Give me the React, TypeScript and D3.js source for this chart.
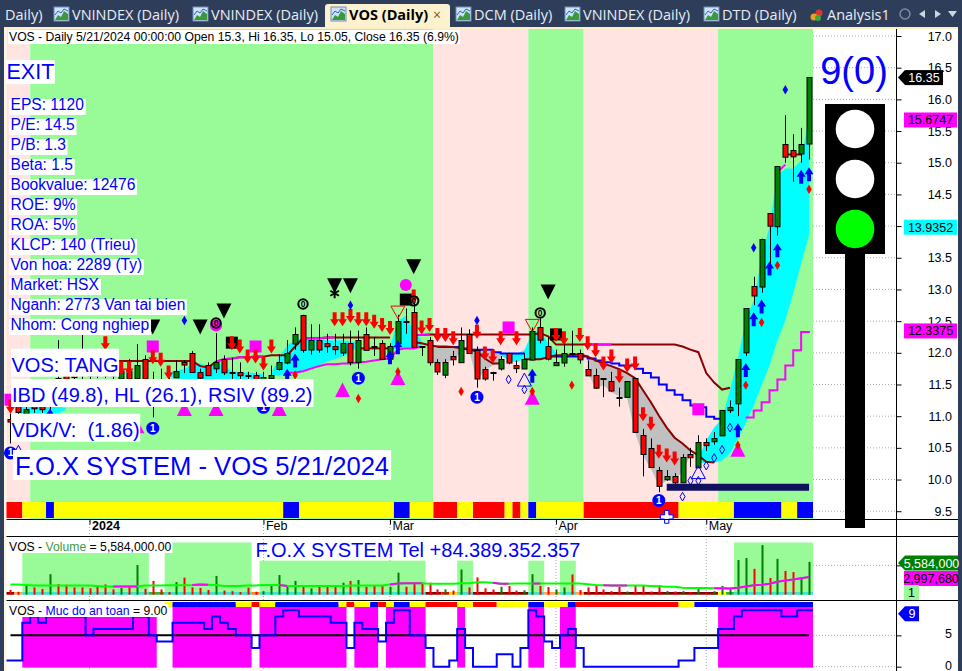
import React, { useEffect, useRef } from 'react'
import * as d3 from 'd3'

// candles, bar 1 is the left most one
const opens = [
  10.96, 11.17, 11.03, 11.25, 11.16, 11.18, 11.6, 11.65, 11.7, 11.7,
  11.72, 11.75, 11.75, 11.72, 11.6, 11.72, 11.6, 11.91, 11.5, 11.55,
  11.5, 11.61, 11.85, 12.0, 11.7, 11.81, 11.75, 11.91, 11.7, 11.7,
  11.65, 11.65, 11.48, 11.6, 11.74, 11.85, 12.15, 12.6, 12.05, 12.2,
  12.15, 12.1, 12.0, 12.15, 11.85, 12.3, 12.1, 12.15, 11.9, 12.15,
  12.5, 12.65, 12.1, 12.2, 11.85, 11.65, 11.95, 11.85, 12.3, 12.05,
  11.75, 11.7, 11.75, 12.0, 11.8, 11.75, 11.9, 12.4, 12.1, 11.8,
  11.85, 12.0, 12.0, 11.75, 11.65, 11.6, 11.55, 11.3, 11.3, 11.6,
  10.7, 10.5, 10.15, 10.0, 10.05, 9.95, 10.4, 10.2, 10.6, 10.6,
  10.7, 11.1, 11.2, 12.0, 13.05, 13.05, 14.2, 14.0, 15.3, 15.2, 15.15, 15.3,
]
const highs = [
  11.04, 11.25, 11.2, 11.35, 11.25, 11.45, 12.2, 11.8, 11.85, 12.28,
  11.9, 12.0, 12.05, 11.9, 11.85, 11.9, 12.14, 11.96, 11.7, 11.75,
  11.65, 11.88, 11.88, 12.03, 11.75, 11.85, 12.31, 11.96, 11.92, 11.85,
  11.7, 11.7, 11.7, 11.8, 11.98, 12.2, 12.4, 12.6, 12.45, 12.45,
  12.3, 12.3, 12.3, 12.35, 12.35, 12.4, 12.25, 12.2, 12.15, 12.6,
  12.7, 12.85, 12.1, 12.25, 11.9, 11.9, 12.03, 12.4, 12.37, 12.1,
  11.78, 11.7, 11.95, 12.0, 11.88, 12.0, 12.4, 12.55, 12.25, 12.05,
  12.25, 12.35, 12.05, 11.88, 11.75, 11.6, 11.7, 11.45, 11.55, 11.6,
  10.8, 10.65, 10.2, 10.15, 10.1, 10.4, 10.5, 10.7, 10.65, 10.75,
  11.1, 11.25, 11.9, 12.7, 13.2, 13.8, 14.2, 14.95, 15.75, 15.45, 15.55, 16.35,
]
const lows = [
  10.57, 11.0, 10.98, 11.05, 11.05, 11.1, 11.3, 11.4, 11.5, 11.5,
  11.55, 11.6, 11.6, 11.55, 11.5, 11.5, 11.56, 11.56, 10.98, 11.35,
  11.3, 11.61, 11.68, 11.69, 11.56, 11.65, 11.68, 11.65, 11.56, 11.55,
  11.5, 11.4, 11.4, 11.5, 11.72, 11.82, 12.05, 12.0, 11.97, 12.0,
  12.0, 11.97, 11.95, 11.8, 11.75, 12.05, 11.95, 11.9, 11.9, 12.1,
  12.3, 12.1, 11.95, 11.8, 11.65, 11.6, 11.8, 11.85, 12.0, 11.45,
  11.56, 11.56, 11.72, 11.82, 11.68, 11.75, 11.88, 12.15, 11.88, 11.8,
  11.78, 11.97, 11.83, 11.65, 11.43, 11.3, 11.38, 11.15, 11.3, 10.75,
  10.05, 10.2, 9.8, 9.98, 9.9, 9.95, 10.2, 10.2, 10.45, 10.55,
  10.7, 11.05, 11.0, 11.95, 12.75, 12.95, 13.4, 13.85, 15.0, 14.7, 15.0, 15.05,
]
const closes = [
  10.92, 11.06, 11.12, 11.12, 11.11, 11.37, 11.5, 11.5, 11.62, 11.65,
  11.65, 11.65, 11.65, 11.65, 11.72, 11.6, 11.81, 11.6, 11.3, 11.45,
  11.4, 11.71, 11.81, 11.7, 11.61, 11.65, 11.85, 11.7, 11.69, 11.65,
  11.64, 11.46, 11.62, 11.65, 11.85, 12.0, 12.3, 12.05, 12.2, 12.05,
  12.1, 12.05, 12.15, 11.85, 12.2, 12.05, 12.09, 11.9, 12.1, 12.5,
  12.49, 12.1, 12.09, 11.85, 11.7, 11.85, 11.9, 12.2, 12.0, 11.6,
  11.6, 11.69, 11.9, 11.85, 11.75, 11.9, 12.35, 12.2, 11.9, 11.85,
  12.0, 11.99, 11.9, 11.65, 11.45, 11.59, 11.4, 11.29, 11.55, 10.75,
  10.4, 10.2, 9.9, 10.05, 9.95, 10.35, 10.35, 10.6, 10.55, 10.65,
  11.1, 11.15, 11.9, 12.7, 12.9, 13.8, 14.0, 14.95, 15.1, 15.1, 15.3, 16.35,
]
// volume in millions
const volumes = [
  0.8, 0.5, 1.5, 1.25, 0.97, 3.5, 1.8, 1.7, 1.25, 1.25,
  1.1, 1.35, 1.75, 0.9, 1.15, 1.5, 5.05, 1.0, 2.35, 0.9,
  0.45, 2.15, 2.9, 1.25, 1.15, 0.8, 3.2, 0.7, 0.6, 0.45,
  1.2, 0.5, 0.6, 1.5, 3.35, 1.5, 2.35, 1.65, 1.1, 1.65,
  1.65, 1.5, 2.05, 2.35, 2.5, 1.35, 1.65, 1.65, 1.35, 3.75,
  1.35, 1.9, 2.05, 2.05, 0.9, 0.9, 0.7, 4.3, 1.25, 2.95,
  1.1, 0.9, 1.35, 1.5, 0.7, 0.75, 3.5, 1.5, 1.3, 0.9,
  1.25, 3.45, 0.8, 1.25, 1.65, 0.9, 0.6, 1.35, 0.55, 1.65,
  1.65, 0.55, 1.65, 0.6, 0.55, 0.6, 0.4, 1.0, 0.3, 0.6,
  1.5, 0.95, 5.9, 6.25, 4.4, 8.45, 2.85, 6.1, 4.05, 3.85, 3.0, 5.58,
]
const volumeAvg = [
  1.75, 1.75, 1.65, 1.55, 1.55, 1.55, 1.55, 1.55, 1.55, 1.55,
  1.55, 1.5, 1.4, 1.4, 1.4, 1.4, 1.4, 1.55, 1.55, 1.55,
  1.6, 1.6, 1.6, 1.65, 1.75, 1.7, 1.65, 1.5, 1.5, 1.5,
  1.55, 1.55, 1.65, 1.65, 1.65, 1.5, 1.5, 1.5, 1.5, 1.5,
  1.5, 1.5, 1.5, 1.55, 1.55, 1.55, 1.55, 1.55, 1.75, 1.9,
  1.95, 1.95, 1.95, 1.85, 1.85, 1.85, 1.85, 1.95, 1.95, 2.1,
  2.1, 2.05, 1.85, 1.85, 1.9, 1.9, 1.9, 1.9, 1.9, 1.9,
  1.9, 1.9, 1.9, 1.8, 1.65, 1.6, 1.55, 1.55, 1.55, 1.55,
  1.55, 1.5, 1.45, 1.35, 1.35, 1.2, 1.15, 1.15, 1.15, 1.1,
  1.1, 1.05, 1.2, 1.4, 1.6, 1.7, 1.85, 2.2, 2.4, 2.6, 2.8, 3.0,
]
const safety = [
  1, 1, 7, 8, 7, 8, 8, 8, 8, 8,
  5, 6, 6, 6, 6, 6, 8, 8, 5, 4,
  4, 7, 7, 7, 7, 6, 8, 7, 6, 5,
  5, 3, 5, 5, 8, 9, 9, 8, 8, 8,
  8, 7, 7, 3, 7, 6, 6, 4, 7, 9,
  9, 5, 5, 3, 0, 0, 1, 6, 3, 0,
  0, 0, 2, 2, 0, 3, 9, 8, 4, 3,
  5, 6, 3, 0, 0, 0, 0, 0, 0, 0,
  0, 0, 0, 0, 0, 1, 1, 3, 3, 3,
  6, 6, 8, 9, 9, 9, 9, 9, 8, 8, 9, 9,
]

// lines, each with the bar it starts on
const trendLine = [
  11.87, 11.87, 11.87, 11.87, 11.87, 11.87, 11.87, 11.87, 11.87, 11.87, 11.87, 11.87, 11.87, 11.87, 11.87, 11.87, 11.87,
  11.79, 11.77, 11.86, 11.9, 11.91, 11.93, 11.93, 11.94, 11.94, 11.96, 11.96, 11.96, 12.1, 12.23, 12.23, 12.23,
  12.24, 12.24, 12.24, 12.24, 12.24, 12.24, 12.24, 12.24, 12.24, null, null, 12.28, 12.28,
  12.29, 12.29, 12.29, 12.29, 12.29, 12.29, 12.29, 12.29, 12.29, 12.29, 12.29, 12.29, 12.29, 12.29,
  12.31, 12.26, 12.13, 12.13, 12.13, 12.13, 12.13, 12.13, 12.13, 12.13, 12.13, 12.13, 12.13, 12.13, 12.13, 12.13, 12.13, 12.13,
  12.1, 12.05, 12.01, 11.68, 11.53, 11.42, 11.45,
]
const trendStart = 8
const trendRisingRuns = [[27, 33], [38, 42], [52, 54], [74, 77], [92, 93]]
const lateTrend = [[98, 14.85], [99, 14.97]]
const lateFlat = [[99, 15.13], [100, 15.13], [101, 15.13]]
const supportLine = [11.68, 11.69, 11.71, 11.75, 11.79, 11.82, 11.82, 11.83, 11.83, 11.85, 11.86, 11.88, 11.9, 11.91, 12.05, 12.07, 12.07, 12.1]
const supportStart = 36
const stairLine = [10.98, 11.09, 11.22, 11.41, 11.58, 11.8, 12.04, 12.33, 12.34]
const stairStart = 94
const stopLines = [
  { start: 45, values: [12.07, 12.07, 12.07, 12.07, 12.07] },
  { start: 52, values: [12.17, 12.15, 12.12, 12.1, 12.1, 12.09, 12.07, 12.05, 12.02, 11.91, 11.83, 11.83] },
  { start: 66, values: [11.9, 11.9, 11.9, 11.93, 11.96, 11.96, 11.96, 11.98, 11.94, 11.88, 11.83, 11.79, 11.74, 11.68, 11.6, 11.41, 11.22, 11.01, 10.82, 10.66, 10.57, 10.46, 10.38, 10.28, 10.27] },
]
const blueLines = [
  { start: 55, values: [12.09, 12.09, 12.09, 12.07, 12.05, 12.05, 12.05, 12.01, 11.99, 11.99, 11.99, 11.99] },
  { start: 69, values: [11.94, 11.94, 11.94, 11.94, 11.94, 11.91, 11.88, 11.85, 11.83, 11.8, 11.8, 11.75, 11.68, 11.61, 11.5, 11.41, 11.34, 11.25, 11.17, 11.14, 10.99, 10.96, 10.95] },
]

// filled clouds
const cyanClouds = [
  { start: 2, top: [11.17, 11.17, 11.17, 11.17, 11.17, 11.17, 11.12], bottom: [11.04, 11.04, 11.04, 11.04, 11.04, 11.04, 11.1] },
  { start: 21, top: [11.69, 11.72, 11.75, 11.82, 11.83, 11.79, 11.85, 11.8, 11.71, 11.69, 11.69, 11.68, 11.66], bottom: [11.63, 11.6, 11.58, 11.56, 11.55, 11.53, 11.55, 11.55, 11.56, 11.56, 11.56, 11.56, 11.58] },
  { start: 34, top: [11.68, 11.93, 12.12, 12.2, 12.23, 12.23, 12.23, 12.2, 12.2, 12.2, 12.18, 12.15], bottom: [11.64, 11.64, 11.68, 11.69, 11.71, 11.75, 11.8, 11.86, 11.9, 11.94, 12.01, 12.1] },
  { start: 49, top: [12.09, 12.51, 12.58, 12.35, 12.2], bottom: [12.05, 12.07, 12.07, 12.09, 12.12] },
  { start: 63, top: [11.99, 11.98, 11.98, 12.04, 12.32, 12.35, 12.15, 12.01], bottom: [11.96, 11.88, 11.85, 11.91, 11.91, 11.9, 11.93, 11.96] },
  { start: 88, top: [10.33, 10.62, 10.82, 10.96, 11.41, 11.91, 12.51, 12.83, 13.49, 14.0, 14.8, 14.91, 14.91, 15.04, 15.74], bottom: [10.27, 10.26, 10.27, 10.3, 10.41, 10.65, 10.89, 11.17, 11.49, 11.8, 12.2, 12.51, 12.94, 13.41, 13.86] },
]
const greyClouds = [
  { start: 54, top: [12.12, 12.1, 12.09, 12.09, 12.09], bottom: [11.85, 11.85, 11.85, 11.88, 12.01] },
  { start: 59, top: [12.05, 12.05, 12.04, 12.02, 12.01], bottom: [12.04, 11.56, 11.72, 11.8, 11.85] },
  { start: 74, top: [11.91, 11.88, 11.83, 11.79, 11.74, 11.68, 11.6, 11.41, 11.22, 11.01, 10.82, 10.66, 10.57, 10.46], bottom: [11.69, 11.44, 11.49, 11.38, 11.31, 11.28, 10.74, 10.38, 10.17, 9.91, 9.98, 9.97, 10.14, 10.38] },
]

// regime runs: colour, last bar + .5
const regimeRuns = [['pink', 3.5], ['green', 54.5], ['pink', 66.5], ['green', 73.5], ['pink', 90.5], ['green', 102.5]] as const
const priceRibbon = [['red', 2.5], ['yellow', 5.5], ['blue', 6.5], ['yellow', 35.5], ['blue', 37.5], ['yellow', 49.5], ['blue', 51.5], ['yellow', 54.5], ['red', 57.5], ['yellow', 59.5], ['red', 63.5], ['yellow', 64.5], ['red', 65.5], ['yellow', 66.5], ['blue', 67.5], ['yellow', 73.5], ['red', 85.5], ['yellow', 92.5], ['blue', 98.5], ['yellow', 100.5], ['blue', 102.5]] as const
const safetyRibbon = [[null, 20.5], ['yellow', 21.5], ['blue', 29.5], ['yellow', 31.5], ['red', 32.5], ['yellow', 34.5], ['blue', 42.5], ['yellow', 43.5], ['red', 44.5], ['yellow', 46.5], ['blue', 47.5], ['red', 48.5], ['yellow', 49.5], ['blue', 51.5], ['yellow', 53.5], ['red', 57.5], ['yellow', 59.5], ['red', 62.5], ['yellow', 66.5], ['blue', 68.5], ['yellow', 71.5], ['blue', 72.5], ['red', 85.5], ['yellow', 87.5], ['blue', 102.5]] as const
const volumeStrip = [['#8b0000', 1.5], ['#ffa54f', 2.5], ['#40e0d0', 18.5], ['#32b432', 20.5], ['#40e0d0', 31.5], ['#ff7f27', 32.5], ['#40e0d0', 53.5], ['#8b0000', 55.5], ['#ff0000', 56.5], ['#ffd700', 57.5], ['#40e0d0', 59.5], ['#8b0000', 66.5], ['#40e0d0', 68.5], ['#ffa54f', 70.5], ['#40e0d0', 72.5], ['#ffa54f', 73.5], ['#8b0000', 90.5], ['#ffff00', 91.5], ['#32b432', 92.5], ['#40e0d0', 102.5]] as const
// green boxes behind the volume: first bar, last bar, volume level
const volumeBoxes = [[2.5, 18.5, 7.1], [20.5, 31.5, 8.9], [32.5, 53.5, 5.8], [57.5, 59.5, 5.8], [66.5, 68.5, 5.8], [70.5, 72.5, 5.8], [92.5, 102.5, 8.9]]
const safetyRuns = [[2.5, 19.5, 8], [21.5, 31.5, 10], [32.5, 43.5, 10], [44.5, 47.5, 10], [48.5, 53.5, 10], [57.5, 58.5, 10], [66.5, 68.5, 10], [70.5, 72.5, 10], [90.5, 102.5, 10]]

// signals: [bar, price]
const redArrows = [[1, 11.04], [13, 12.04], [15, 11.64], [16, 11.64], [19, 11.82], [20, 11.78], [21, 11.58], [29, 12.04], [30, 11.99], [31, 11.83], [32, 11.83], [33, 11.72], [34, 11.99], [42, 12.42], [43, 12.42], [44, 12.47], [45, 12.42], [46, 12.42], [47, 12.38], [48, 12.33], [49, 12.28], [52, 12.78], [53, 12.29], [54, 12.33], [55, 12.17], [56, 12.17], [57, 12.12], [60, 12.22], [61, 11.88], [62, 11.83], [63, 12.12], [65, 12.12], [70, 12.17], [71, 12.12], [73, 12.17], [74, 12.04], [75, 11.93], [76, 11.72], [77, 11.83], [78, 11.52], [79, 11.69], [80, 11.72], [81, 10.92], [82, 10.77], [83, 10.33], [84, 10.27], [85, 10.22]]
const blueArrows = [[6, 11.12], [36, 11.75], [37, 11.99], [49, 12.04], [50, 12.2], [67, 11.75], [93, 10.89], [94, 11.84], [95, 12.64], [96, 12.84], [97, 13.44], [98, 13.73], [101, 14.89], [102, 14.93]]
const blackTriangles = [[19, 12.29], [25, 12.29], [28, 12.54], [42, 12.94], [44, 12.94], [52, 13.24], [69, 12.84]]
const magentaTriangles = [[17, 10.96], [23, 11.23], [27, 11.23], [35, 11.23], [43, 11.53], [50, 11.72], [67, 11.41], [93, 10.59]]
const magentaSquares = [[1, 11.26], [19, 12.1], [32, 12.1], [64, 12.4], [88, 11.11]]
const blackSquares = [[29, 12.16], [51, 12.84], [70, 12.29]]
const magentaDots = [[27, 12.43], [51, 13.07]]
const zeroRings = [[27, 12.47], [38, 12.77], [52, 12.82], [68, 12.63]]
const oneCircles = [[1, 10.42], [19, 10.81], [33, 11.14], [45, 11.6], [60, 11.3], [83, 9.67]]
const blueDiamonds = [[23, 12.51], [44, 12.75], [60, 12.51], [95, 13.66], [99, 16.15]]
const redDiamonds = [[37, 11.65], [45, 11.28], [50, 11.7], [58, 11.39], [67, 11.39], [72, 11.49], [93, 10.54], [94, 11.49], [96, 12.48], [98, 13.38], [102, 14.58]]
const hollowDiamonds = [[64, 11.58], [66, 11.42], [86, 9.73], [87, 9.98], [88, 9.98], [89, 10.22], [90, 10.34], [91, 10.47], [92, 10.82]]
const hollowBlueTriangles = [[2, 10.54], [66, 11.68], [88, 10.22]]
const hollowRedTriangles = [[50, 12.54], [67, 12.33]]
const supportBar = { from: 84, to: 102, price: 9.88 }

const priceTicks = [17, 16.5, 16, 15.5, 15, 14.5, 14, 13.5, 13, 12.5, 12, 11.5, 11, 10.5, 10, 9.5]
const monthTicks = [11, 33, 49, 70, 89]
const monthLabels = ['2024', 'Feb', 'Mar', 'Apr', 'May']
const infoRows = ['EPS: 1120', 'P/E: 14.5', 'P/B: 1.3', 'Beta: 1.5', 'Bookvalue: 12476', 'ROE: 9%', 'ROA: 5%', 'KLCP: 140 (Trieu)', 'Von hoa: 2289 (Ty)', 'Market: HSX', 'Nganh: 2773 Van tai bien', 'Nhom: Cong nghiep']
const tabs = [
  { label: 'VNINDEX (Daily)', icon: 54, text: 72 },
  { label: 'VNINDEX (Daily)', icon: 193, text: 211 },
  { label: 'DCM (Daily)', icon: 456, text: 474 },
  { label: 'VNINDEX (Daily)', icon: 565, text: 583 },
  { label: 'DTD (Daily)', icon: 704, text: 722 },
]

const SANS = '"Liberation Sans", Arial, sans-serif'
const colours: Record<string, string> = { pink: '#ffe4e1', green: '#98fb98', red: '#ff0000', yellow: '#ffff00', blue: '#0000ff' }
const BLUE = '#0000ff'
const MAGENTA = '#ff00ff'
const DARKRED = '#8b0000'

const App = () => {
  const svgRef = useRef<SVGSVGElement | null>(null)

  useEffect(() => {
    const svg = d3.select(svgRef.current)
    svg.selectAll('*').remove()

    const x = d3.scaleLinear().domain([0.5, 102.5]).range([6.5, 813])
    const y = d3.scaleLinear().domain([9, 17]).range([542.9, 36])
    const yVol = d3.scaleLinear().domain([0, 10]).range([594.7, 536])
    const ySafe = d3.scaleLinear().domain([0, 10]).range([666.7, 604])
    const bars = d3.range(1, 103)
    const plotTop = 29
    const plotBottom = 519

    // page frame
    svg.append('rect').attr('width', 962).attr('height', 671).attr('fill', '#fff')
    svg.append('rect').attr('x', 0).attr('y', 0).attr('width', 962).attr('height', 27).attr('fill', '#2d3d5a')
    svg.append('rect').attr('x', 4).attr('y', 27).attr('width', 954).attr('height', 2).attr('fill', '#fdeec4')
    svg.append('rect').attr('x', 0).attr('y', 27).attr('width', 4).attr('height', 644).attr('fill', '#2d3d5a')
    svg.append('rect').attr('x', 4).attr('y', 29).attr('width', 2.5).attr('height', 642).attr('fill', '#fdf6e3')
    svg.append('rect').attr('x', 958).attr('y', 27).attr('width', 4).attr('height', 644).attr('fill', '#2d3d5a')

    // tabs
    const drawIcon = (ix: number) => {
      const g = svg.append('g').attr('transform', `translate(${ix},7)`)
      g.append('rect').attr('width', 15).attr('height', 14).attr('fill', '#cfe3f7').attr('stroke', '#6f8db5')
      g.append('path').attr('d', 'M1,13L4,8L7,10L10,4L14,7V13Z').attr('fill', '#3a9a3a')
      g.append('path').attr('d', 'M1,8L4,4L7,6L10,2L14,4').attr('fill', 'none').attr('stroke', '#2f5fc0')
    }
    const tabText = (tx: number, label: string) =>
      svg.append('text').attr('x', tx).attr('y', 20).attr('fill', '#e8edf5')
        .style('font-family', '"Open Sans", sans-serif').style('font-size', '14.5px').text(label)
    tabText(5, 'Daily)')
    tabs.forEach(t => { drawIcon(t.icon); tabText(t.text, t.label) })
    svg.append('path').attr('d', 'M325,27V7Q325,4 328,4H447Q450,4 450,7V27Z').attr('fill', '#fdf2d0')
    drawIcon(331)
    svg.append('text').attr('x', 349).attr('y', 20).attr('fill', '#000')
      .style('font-family', '"Open Sans", sans-serif').style('font-size', '14.5px').style('font-weight', 'bold').text('VOS (Daily)')
    svg.append('text').attr('x', 433).attr('y', 20).attr('fill', '#7a5a30')
      .style('font-family', '"Open Sans", sans-serif').style('font-size', '14px').text('×')
    const heart = svg.append('g').attr('transform', 'translate(810,9)')
    heart.append('circle').attr('cx', 9).attr('cy', 4).attr('r', 3.5).attr('fill', '#d63a2f')
    heart.append('circle').attr('cx', 4).attr('cy', 8).attr('r', 3.5).attr('fill', '#e8a020')
    heart.append('circle').attr('cx', 8).attr('cy', 9).attr('r', 3).attr('fill', '#3ea83e')
    tabText(827, 'Analysis1')
    svg.append('circle').attr('cx', 905).attr('cy', 14).attr('r', 5).attr('fill', 'none').attr('stroke', '#7f8ba0').attr('stroke-width', 1.5)
    svg.append('path').attr('d', 'M925,10V18L919,14Z M935,10V18L941,14Z M948,11H957L952.5,17Z').attr('fill', '#cdd5e2')

    // dotted grid first, the fills hide most of it
    const dotted = (x1: number, y1: number, x2: number, y2: number) =>
      svg.append('line').attr('x1', x1).attr('y1', y1).attr('x2', x2).attr('y2', y2)
        .attr('stroke', '#a9a9a9').attr('stroke-dasharray', '1,2')
    priceTicks.forEach(p => dotted(813, y(p), 896, y(p)))
    dotted(813, yVol(5), 896, yVol(5))
    dotted(813, ySafe(5), 896, ySafe(5))
    dotted(813, ySafe(0), 896, ySafe(0))
    monthTicks.forEach(m => dotted(x(m), plotTop, x(m), 671))

    // regime background and ribbon, step through the run ends
    let from = 0.5
    regimeRuns.forEach(([c, to]) => {
      svg.append('rect').attr('x', x(from)).attr('y', plotTop).attr('width', x(to) - x(from)).attr('height', plotBottom - plotTop).attr('fill', colours[c])
      from = to
    })
    from = 0.5
    priceRibbon.forEach(([c, to]) => {
      svg.append('rect').attr('x', x(from)).attr('y', 502).attr('width', x(to) - x(from)).attr('height', 16).attr('fill', colours[c])
      from = to
    })

    // clouds
    const drawCloud = (cloud: { start: number; top: number[]; bottom: number[] }, fill: string) => {
      const area = d3.area<number>()
        .x((_, i) => x(cloud.start + i))
        .y0((_, i) => y(cloud.bottom[i]))
        .y1(d => y(d))
      svg.append('path').attr('d', area(cloud.top)).attr('fill', fill)
    }
    cyanClouds.forEach(c => drawCloud(c, '#00ffff'))
    greyClouds.forEach(c => drawCloud(c, '#c0c0c0'))

    // lines
    const drawLine = (values: (number | null)[], start: number, stroke: string, curve = d3.curveLinear) => {
      const line = d3.line<number | null>()
        .defined(d => d !== null)
        .x((_, i) => x(start + i))
        .y(d => y(d as number))
        .curve(curve)
      svg.append('path').attr('d', line(values)).attr('fill', 'none').attr('stroke', stroke).attr('stroke-width', 2)
    }
    blueLines.forEach(b => drawLine(b.values, b.start, BLUE, d3.curveStepAfter))
    drawLine(trendLine, trendStart, DARKRED)
    trendRisingRuns.forEach(([a, b]) => drawLine(trendLine.slice(a - trendStart, b - trendStart + 1), a, MAGENTA))
    drawLine(lateTrend.map(d => d[1]), lateTrend[0][0], MAGENTA)
    drawLine(lateFlat.map(d => d[1]), lateFlat[0][0], DARKRED)
    drawLine(supportLine, supportStart, MAGENTA)
    drawLine(stairLine, stairStart, MAGENTA, d3.curveStepAfter)
    stopLines.forEach(s => drawLine(s.values, s.start, DARKRED))

    // candles
    const candles = svg.append('g')
    candles.selectAll('line').data(bars).join('line')
      .attr('x1', d => Math.round(x(d)) + 0.5).attr('x2', d => Math.round(x(d)) + 0.5)
      .attr('y1', d => y(highs[d - 1])).attr('y2', d => y(lows[d - 1]))
      .attr('stroke', '#000')
    candles.selectAll('rect').data(bars).join('rect')
      .attr('x', d => Math.round(x(d)) - 2).attr('width', 5)
      .attr('y', d => Math.round(y(Math.max(opens[d - 1], closes[d - 1]))) + 0.5)
      .attr('height', d => Math.max(1, Math.abs(y(opens[d - 1]) - y(closes[d - 1]))))
      .attr('fill', d => (closes[d - 1] >= opens[d - 1] ? '#008000' : '#ff0000'))
      .attr('stroke', '#000')

    // signals
    const drawMarks = (data: number[][], fn: (g: d3.Selection<SVGGElement, unknown, null, undefined>) => void) => {
      data.forEach(([bar, price]) => {
        const g = svg.append('g').attr('transform', `translate(${x(bar)},${y(price)})`)
        fn(g as any)
      })
    }
    const symbolPath = (type: d3.SymbolType, size: number) => d3.symbol().type(type).size(size)() as string
    drawMarks(magentaSquares, g => g.append('rect').attr('x', -6).attr('y', -6).attr('width', 12).attr('height', 12).attr('fill', MAGENTA))
    drawMarks(magentaDots, g => g.append('circle').attr('r', 6).attr('fill', MAGENTA))
    drawMarks(blackSquares, g => g.append('rect').attr('x', -6).attr('y', -6).attr('width', 12).attr('height', 12).attr('fill', '#000'))
    drawMarks(magentaTriangles, g => g.append('path').attr('d', 'M0,0L7.5,14.5H-7.5Z').attr('fill', MAGENTA))
    drawMarks(blackTriangles, g => g.append('path').attr('d', 'M0,0L7.5,-15H-7.5Z').attr('fill', '#000'))
    drawMarks(hollowBlueTriangles, g => g.append('path').attr('d', 'M0,0L7,13H-7Z').attr('fill', 'none').attr('stroke', BLUE))
    drawMarks(hollowRedTriangles, g => g.append('path').attr('d', 'M0,0L7,-12.5H-7Z').attr('fill', 'none').attr('stroke', '#ff0000'))
    drawMarks(redArrows, g => g.append('path').attr('d', 'M0,0L4.5,-7H2V-14H-2V-7H-4.5Z').attr('fill', '#ff0000'))
    drawMarks(blueArrows, g => g.append('path').attr('d', 'M0,0L4.5,7H2V14H-2V7H-4.5Z').attr('fill', BLUE))
    drawMarks(blueDiamonds, g => g.append('path').attr('d', symbolPath(d3.symbolDiamond, 26)).attr('fill', BLUE))
    drawMarks(redDiamonds, g => g.append('path').attr('d', symbolPath(d3.symbolDiamond, 26)).attr('fill', '#ff0000'))
    drawMarks(hollowDiamonds, g => g.append('path').attr('d', symbolPath(d3.symbolDiamond, 22)).attr('fill', 'none').attr('stroke', BLUE))
    drawMarks(zeroRings, g => {
      g.append('circle').attr('r', 4.7).attr('fill', 'none').attr('stroke', '#000').attr('stroke-width', 2)
      g.append('text').attr('text-anchor', 'middle').attr('y', 3).attr('fill', '#000').style('font-family', SANS).style('font-size', '8.5px').style('font-weight', 'bold').text('0')
    })
    drawMarks(oneCircles, g => {
      g.append('circle').attr('r', 6.5).attr('fill', BLUE)
      g.append('text').attr('text-anchor', 'middle').attr('y', 3.5).attr('fill', '#fff').style('font-family', SANS).style('font-size', '10px').style('font-weight', 'bold').text('1')
    })
    drawMarks([[42, 12.94]], g => g.append('path').attr('d', symbolPath(d3.symbolAsterisk, 70)).attr('fill', 'none').attr('stroke', '#000').attr('stroke-width', 2))
    drawMarks([[84, 9.41]], g => g.append('path').attr('d', symbolPath(d3.symbolCross, 90)).attr('fill', '#fff').attr('stroke', BLUE))
    svg.append('line').attr('x1', x(supportBar.from)).attr('x2', x(supportBar.to))
      .attr('y1', y(supportBar.price)).attr('y2', y(supportBar.price))
      .attr('stroke', '#10105e').attr('stroke-width', 7)

    // white label boxes over the chart
    const boxed = (tx: number, ty: number, label: string, size: number, pad = 2, h = 0) => {
      const t = svg.append('text').attr('x', tx).attr('y', ty).attr('fill', BLUE)
        .style('font-family', SANS).style('font-size', `${size}px`).style('white-space', 'pre').text(label)
      const b = (t.node() as SVGTextElement).getBBox()
      svg.insert('rect', () => t.node()).attr('x', b.x - pad).attr('y', h ? ty - h + 5 : b.y).attr('width', b.width + pad * 2).attr('height', h || b.height).attr('fill', '#fff')
    }
    boxed(6.5, 79, 'EXIT', 21.5, 0.5, 24)
    infoRows.forEach((row, i) => boxed(10.5, 110 + i * 20, row, 15.6, 1.5, 16))
    boxed(11.5, 371.7, 'VOS: TANG', 20, 0.5, 28)
    boxed(12, 402, 'IBD (49.8), HL (26.1), RSIV (89.2)', 20, 1, 28)
    boxed(11.5, 436.7, 'VDK/V:  (1.86)', 20, 0.5, 28)
    boxed(15, 475, 'F.O.X SYSTEM - VOS 5/21/2024', 25.6, 2, 30)
    const header = svg.append('text').attr('x', 9).attr('y', 40.5).attr('fill', '#000').style('font-family', SANS).style('font-size', '12.2px').text('VOS - Daily 5/21/2024 00:00:00 Open 15.3, Hi 16.35, Lo 15.05, Close 16.35 (6.9%)')
    const hb = (header.node() as SVGTextElement).getBBox()
    svg.insert('rect', () => header.node()).attr('x', 8).attr('y', 30).attr('width', hb.width + 2).attr('height', 14).attr('fill', '#fff')

    // traffic light
    svg.append('text').attr('x', 854).attr('y', 84).attr('text-anchor', 'middle').attr('fill', BLUE).style('font-family', SANS).style('font-size', '38px').text('9(0)')
    svg.append('rect').attr('x', 845).attr('y', 254).attr('width', 20).attr('height', 274).attr('fill', '#000')
    svg.append('rect').attr('x', 825).attr('y', 104).attr('width', 60).attr('height', 150).attr('fill', '#000')
    ;[[129, '#fff'], [179, '#fff'], [229, '#00ff00']].forEach(([cy, fill]) =>
      svg.append('circle').attr('cx', 855).attr('cy', cy as number).attr('r', 19.3).attr('fill', fill as string))

    // volume panel
    volumeBoxes.forEach(([a, b, level]) =>
      svg.append('rect').attr('x', x(a)).attr('y', yVol(level)).attr('width', x(b) - x(a)).attr('height', yVol(0) - yVol(level)).attr('fill', '#98fb98'))
    from = 0.5
    volumeStrip.forEach(([c, to]) => {
      svg.append('rect').attr('x', x(from)).attr('y', 592).attr('width', x(to) - x(from)).attr('height', 2.7).attr('fill', c)
      from = to
    })
    svg.append('g').selectAll('rect').data(bars).join('rect')
      .attr('x', d => Math.round(x(d)) - 0.5).attr('width', 2)
      .attr('y', d => yVol(volumes[d - 1])).attr('height', d => yVol(0) - yVol(volumes[d - 1]))
      .attr('fill', d => (closes[d - 1] >= opens[d - 1] ? '#008000' : '#ff0000'))
    const volLine = d3.line<number>().x((_, i) => x(i + 1)).y(d => yVol(d))
    svg.append('path').attr('d', volLine(volumeAvg)).attr('fill', 'none').attr('stroke', '#00ff00').attr('stroke-width', 2)
    const volRising = [[14, 17], [24, 26], [35, 36], [49, 53], [62, 64], [67, 68], [76, 79], [90, 102]]
    volRising.forEach(([a, b]) => {
      const seg = d3.line<number>().x((_, i) => x(a + i)).y(d => yVol(d))
      svg.append('path').attr('d', seg(volumeAvg.slice(a - 1, b))).attr('fill', 'none').attr('stroke', MAGENTA).attr('stroke-width', 2)
    })
    const titleVol = svg.append('text').attr('x', 9).attr('y', 550.5).attr('fill', '#000').style('font-family', SANS).style('font-size', '12.2px')
    titleVol.append('tspan').text('VOS - ')
    titleVol.append('tspan').attr('fill', '#3f9a3f').text('Volume')
    titleVol.append('tspan').text(' = 5,584,000.00')
    const tvb = (titleVol.node() as SVGTextElement).getBBox()
    svg.insert('rect', () => titleVol.node()).attr('x', 8).attr('y', 540).attr('width', tvb.width + 2).attr('height', 13).attr('fill', '#fff')
    svg.append('text').attr('x', 255.5).attr('y', 556.5).attr('fill', BLUE).style('font-family', SANS).style('font-size', '20px').text('F.O.X SYSTEM Tel +84.389.352.357')

    // safety panel
    safetyRuns.forEach(([a, b, level]) =>
      svg.append('rect').attr('x', x(a)).attr('y', ySafe(level)).attr('width', x(b) - x(a)).attr('height', ySafe(-0.15) - ySafe(level)).attr('fill', MAGENTA))
    from = 0.5
    safetyRibbon.forEach(([c, to]) => {
      if (c) svg.append('rect').attr('x', x(from)).attr('y', 602).attr('width', x(to) - x(from)).attr('height', 5).attr('fill', colours[c])
      from = to
    })
    svg.append('line').attr('x1', x(1)).attr('x2', x(102)).attr('y1', ySafe(5)).attr('y2', ySafe(5)).attr('stroke', '#000').attr('stroke-width', 2)
    const safeLine = d3.line<number>().x((_, i) => x(i + 0.5)).y(d => ySafe(d)).curve(d3.curveStepAfter)
    svg.append('path').attr('d', safeLine(safety.concat(safety[101]))).attr('fill', 'none').attr('stroke', BLUE).attr('stroke-width', 2)
    const titleSafe = svg.append('text').attr('x', 9).attr('y', 614.5).attr('fill', '#000').style('font-family', SANS).style('font-size', '12.2px')
    titleSafe.append('tspan').text('VOS - ')
    titleSafe.append('tspan').attr('fill', BLUE).text('Muc do an toan')
    titleSafe.append('tspan').text(' = 9.00')
    const tsb = (titleSafe.node() as SVGTextElement).getBBox()
    svg.insert('rect', () => titleSafe.node()).attr('x', 8).attr('y', 604).attr('width', tsb.width + 2).attr('height', 13).attr('fill', '#fff')

    // separators and axes
    ;[519.5, 536.5, 600.5].forEach(ly =>
      svg.append('line').attr('x1', 6.5).attr('x2', 958).attr('y1', ly).attr('y2', ly).attr('stroke', '#000').attr('stroke-width', 1))
    const rightAxis = d3.axisRight(y).tickValues(priceTicks).tickFormat(d3.format('.1f') as any).tickSize(5)
    const axisG = svg.append('g').attr('transform', 'translate(896.5,0)').call(rightAxis as any)
    axisG.select('.domain').remove()
    const styleAxisText = (g: any) => g.selectAll('text').attr('x', 55.5).attr('text-anchor', 'end')
      .style('font-family', SANS).style('font-size', '12.5px').attr('fill', '#000')
    styleAxisText(axisG)
    const safeAxis = d3.axisRight(ySafe).tickValues([0, 5]).tickFormat(d3.format('d') as any).tickSize(5)
    const safeG = svg.append('g').attr('transform', 'translate(896.5,0)').call(safeAxis as any)
    safeG.select('.domain').remove()
    styleAxisText(safeG)
    safeG.selectAll('text').attr('dy', '.2em')
    const volAxis = d3.axisRight(yVol).tickValues([5]).tickFormat(() => '').tickSize(5)
    const volG = svg.append('g').attr('transform', 'translate(896.5,0)').call(volAxis as any)
    volG.select('.domain').remove()
    svg.append('line').attr('x1', 896.5).attr('x2', 896.5).attr('y1', plotTop).attr('y2', 671).attr('stroke', '#000')

    const timeAxis = d3.axisBottom(x).tickValues(monthTicks).tickFormat((_, i) => monthLabels[i]).tickSize(5)
    const timeG = svg.append('g').attr('transform', 'translate(0,519.5)').call(timeAxis as any)
    timeG.select('.domain').remove()
    timeG.selectAll('text').attr('x', 2).attr('y', 2).attr('dy', '.71em').attr('text-anchor', 'start')
      .attr('fill', '#000').style('font-family', SANS).style('font-size', '12.5px')
      .style('font-weight', (_, i) => (i === 0 ? 'bold' : 'normal'))

    // value tags on the right
    const tag = (label: string, cy: number, fill: string, color: string, pointer: boolean, bx: number, bw: number) => {
      if (pointer) svg.append('path').attr('d', `M898,${cy}L${bx},${cy - 7.5}V${cy + 7.5}Z`).attr('fill', fill)
      svg.append('rect').attr('x', bx).attr('y', cy - 7.5).attr('width', bw).attr('height', 15).attr('fill', fill)
      svg.append('text').attr('x', bx + bw / 2).attr('y', cy + 4.5).attr('text-anchor', 'middle').attr('fill', color)
        .style('font-family', SANS).style('font-size', '12.5px').text(label)
    }
    tag('16.35', y(16.35) + 0.4, '#000', '#fff', true, 905, 38)
    tag('15.6747', y(15.6747), MAGENTA, '#000', false, 904, 53)
    tag('13.9352', y(13.9352) - 3, '#00ffff', '#000', false, 904, 53)
    tag('12.3375', y(12.3375) - 0.5, MAGENTA, '#000', false, 904, 53)
    tag('5,584,000', 563, '#008000', '#fff', true, 905, 53)
    tag('2,997,680', 578.5, MAGENTA, '#000', false, 904, 54)
    tag('1', 592.5, '#98fb98', '#000', false, 904, 15)
    tag('9', ySafe(9) + 3.5, BLUE, '#fff', true, 905, 14)
  }, [])

  return (
    <svg ref={svgRef} width={962} height={671} style={{ position: 'absolute', left: 0, top: 0, display: 'block' }} />
  )
}

export default App
